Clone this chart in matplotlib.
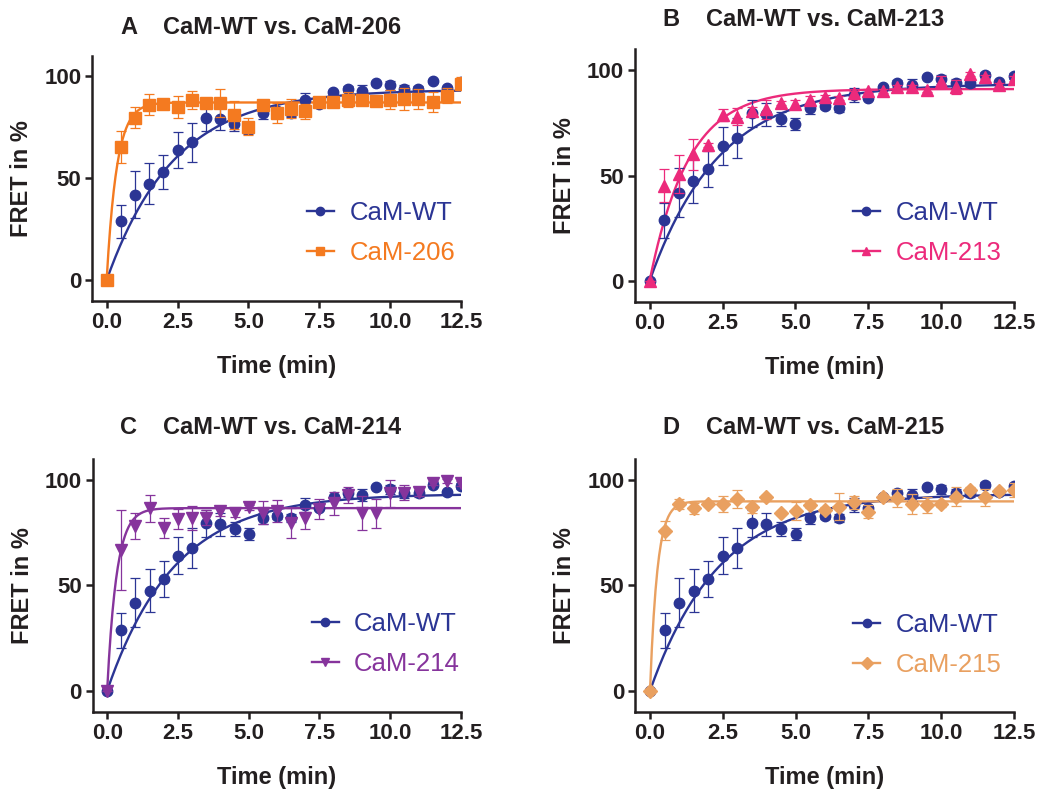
import numpy as np
import matplotlib
matplotlib.use("Agg")
import matplotlib.pyplot as plt
from matplotlib.lines import Line2D

plt.rcParams["font.family"] = ["Liberation Sans", "DejaVu Sans"]

# ============================================================
# DATA
# ============================================================

time = np.arange(0, 12.51, 0.5)

wt_mean = [0, 28.8, 41.9, 47.4, 53.1, 64.0, 67.6, 79.5, 79.0, 76.8, 74.4, 81.8, 82.9,
           82.1, 88.2, 86.6, 92.1, 93.7, 92.9, 96.8, 95.6, 93.7, 93.7, 97.9, 94.5, 97.3]
wt_err = [0, 8.3, 11.5, 10.2, 8.4, 8.8, 9.5, 6.3, 5.4, 3.4, 2.8, 2.5, 1.5,
          2.0, 3.5, 1.0, 1.0, 1.5, 3.0, 1.0, 2.2, 2.0, 1.5, 1.0, 1.0, 1.5]

cam206_mean = [0, 65.5, 79.7, 86.2, 86.5, 85.0, 88.3, 86.8, 87.0, 81.0, 75.3, 86.2, 82.1,
               84.2, 82.9, 87.5, 87.3, 88.6, 88.6, 87.8, 88.5, 88.9, 88.9, 87.3, 90.6, 96.4]
cam206_err = [0, 7.9, 5.2, 5.0, 1.0, 5.5, 4.5, 1.5, 7.0, 7.0, 4.2, 2.0, 4.8,
              4.5, 3.7, 2.4, 1.5, 3.5, 2.5, 1.5, 4.7, 5.4, 4.7, 5.0, 3.7, 3.3]

cam213_mean = [0, 45.2, 50.7, 60.0, 64.5, 78.7, 77.9, 80.6, 81.5, 84.5, 83.9, 85.8, 87.4,
               86.6, 88.9, 90.2, 90.2, 92.1, 92.1, 90.5, 94.5, 92.1, 98.1, 96.8, 92.9, 96.0]
cam213_err = [0, 7.9, 9.2, 7.5, 1.0, 3.0, 4.0, 2.0, 4.5, 1.0, 2.0, 1.7, 1.0,
              1.0, 1.0, 1.0, 1.0, 1.0, 1.0, 1.0, 2.7, 3.3, 1.0, 1.0, 1.0, 1.0]

cam214_mean = [0, 66.8, 78.2, 86.6, 77.1, 81.5, 82.1, 82.1, 85.3, 84.2, 87.0, 84.5, 85.3,
               79.7, 81.8, 86.1, 88.9, 92.9, 84.5, 84.2, 93.7, 94.0, 94.5, 98.7, 99.5, 98.4]
cam214_err = [0, 18.8, 6.3, 6.3, 4.7, 4.7, 5.7, 3.6, 2.4, 1.5, 1.0, 5.5, 5.2,
              7.1, 5.0, 4.7, 5.4, 3.7, 8.1, 7.0, 6.3, 3.6, 2.0, 1.0, 1.0, 1.0]

cam215_mean = [0, 76.0, 88.6, 86.6, 88.6, 88.6, 91.0, 87.1, 92.1, 84.4, 85.5, 88.2, 85.8,
               87.4, 89.4, 85.0, 92.1, 91.5, 88.6, 88.3, 88.6, 92.1, 95.3, 91.8, 94.6, 95.3]
cam215_err = [0, 4.4, 2.4, 2.5, 1.0, 3.9, 4.3, 2.8, 1.0, 1.0, 4.2, 1.5, 1.6,
              6.5, 3.2, 3.2, 1.0, 4.1, 4.7, 3.9, 1.5, 4.6, 1.5, 4.2, 1.0, 3.5]

# one-phase association fits: (plateau, k)
WT_FIT = (93.5, 0.42)
FIT_206 = (87.2, 2.8)
FIT_213 = (91.0, 0.75)
FIT_214 = (86.7, 3.0)
FIT_215 = (89.9, 4.0)

WT_COLOR = "#2B3594"
TEXT_COLOR = "#231F20"

panels = [
    ("A", "CaM-206", cam206_mean, cam206_err, FIT_206, "#F47A20", "s"),
    ("B", "CaM-213", cam213_mean, cam213_err, FIT_213, "#EC2A7B", "^"),
    ("C", "CaM-214", cam214_mean, cam214_err, FIT_214, "#86349C", "v"),
    ("D", "CaM-215", cam215_mean, cam215_err, FIT_215, "#E9A060", "D"),
]

# axes rectangles in figure fractions
rects = [
    [0.0890, 0.6191, 0.3547, 0.3099],
    [0.6112, 0.6172, 0.3648, 0.3207],
    [0.0895, 0.0978, 0.3542, 0.3204],
    [0.6116, 0.0978, 0.3643, 0.3204],
]
# (letter x, title x, title y, legend x, legend y) in axes fractions
text_pos = [
    (0.075, 0.191, 1.09, 0.582, 0.276),
    (0.071, 0.186, 1.09, 0.575, 0.273),
    (0.074, 0.190, 1.10, 0.594, 0.268),
    (0.071, 0.186, 1.10, 0.575, 0.264),
]


def fit_curve(t, params):
    plateau, k = params
    return plateau * (1 - np.exp(-k * t))


# ============================================================
# PLOTS
# ============================================================

fig = plt.figure(figsize=(10.39, 7.89), dpi=100)
t_fit = np.linspace(0, 12.5, 400)

for (letter, name, mean, err, fit, color, marker), rect, pos in zip(panels, rects, text_pos):
    ax = fig.add_axes(rect)

    ax.errorbar(time, wt_mean, yerr=wt_err, fmt="o", color=WT_COLOR, ms=7.5,
                elinewidth=0.9, capsize=3.5, capthick=0.9, zorder=3)
    ax.plot(t_fit, fit_curve(t_fit, WT_FIT), color=WT_COLOR, lw=1.7, zorder=2)

    ms = 8 if marker != "D" else 7
    ax.errorbar(time, mean, yerr=err, fmt=marker, color=color, ms=ms,
                elinewidth=0.9, capsize=3.5, capthick=0.9, zorder=4)
    ax.plot(t_fit, fit_curve(t_fit, fit), color=color, lw=1.7, zorder=2)

    ax.set_xlim(-0.5, 12.5)
    ax.set_ylim(-10, 110)
    ax.set_xticks(np.arange(0, 12.6, 2.5))
    ax.set_xticklabels([f"{v:.1f}" for v in np.arange(0, 12.6, 2.5)])
    ax.set_yticks([0, 50, 100])

    for side in ["top", "right"]:
        ax.spines[side].set_visible(False)
    for side in ["left", "bottom"]:
        ax.spines[side].set_linewidth(1.8)
        ax.spines[side].set_color(TEXT_COLOR)

    ax.tick_params(width=1.8, length=5, pad=3, colors=TEXT_COLOR, labelsize=16)
    for lab in ax.get_xticklabels() + ax.get_yticklabels():
        lab.set_fontweight("bold")

    ax.set_xlabel("Time (min)", fontsize=17, fontweight="bold", color=TEXT_COLOR, labelpad=16)
    ax.set_ylabel("FRET in %", fontsize=17, fontweight="bold", color=TEXT_COLOR, labelpad=8)

    ax.text(pos[0], pos[2], letter, transform=ax.transAxes, fontsize=17,
            fontweight="bold", color=TEXT_COLOR, ha="left", va="baseline")
    ax.text(pos[1], pos[2], f"CaM-WT vs. {name}", transform=ax.transAxes, fontsize=17,
            fontweight="bold", color=TEXT_COLOR, ha="left", va="baseline")

    handles = [
        Line2D([], [], color=WT_COLOR, marker="o", lw=1.7, ms=6),
        Line2D([], [], color=color, marker=marker, lw=1.7, ms=6),
    ]
    ax.legend(handles, ["CaM-WT", name], loc="center left", bbox_to_anchor=(pos[3], pos[4]),
              frameon=False, fontsize=18.5, labelcolor="linecolor", handlelength=1.05,
              handletextpad=0.6, labelspacing=0.62, borderpad=0, borderaxespad=0)

fig.savefig("out.png", dpi=100)
